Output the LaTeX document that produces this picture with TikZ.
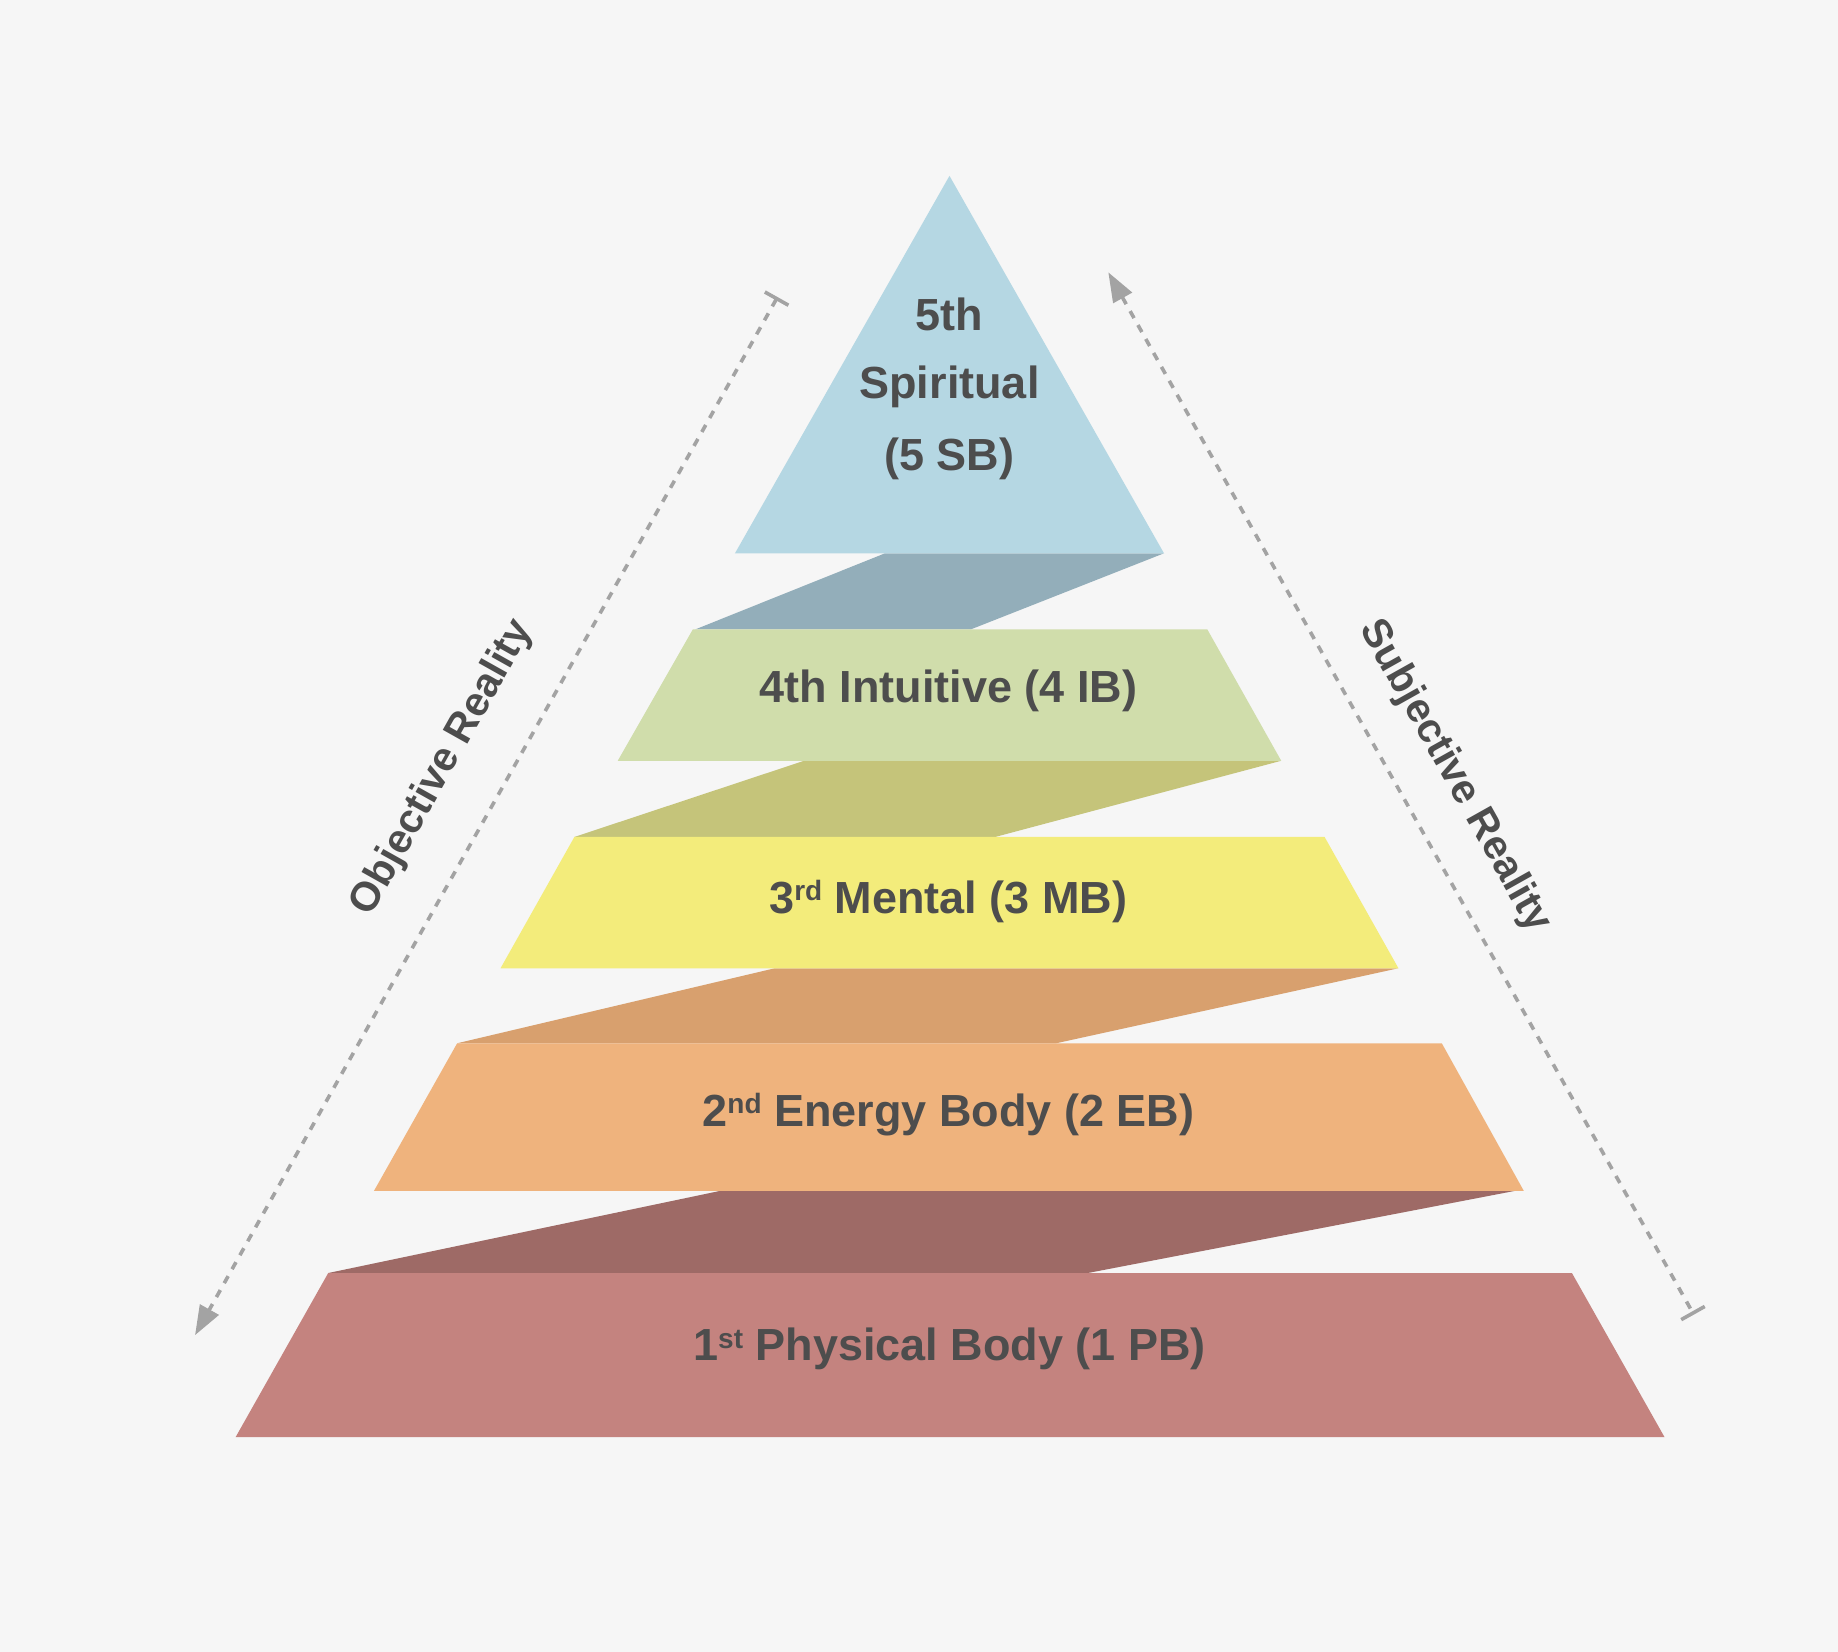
\documentclass[tikz,border=0pt]{standalone}
\usepackage{fontspec}
\setmainfont{Liberation Sans}
\usetikzlibrary{arrows.meta}
\definecolor{bgc}{HTML}{F6F6F6}
\definecolor{ctri}{HTML}{B5D7E3}
\definecolor{csa}{HTML}{93AEBA}
\definecolor{cfour}{HTML}{D0DDAB}
\definecolor{csb}{HTML}{C5C47A}
\definecolor{cthree}{HTML}{F3EC7B}
\definecolor{csc}{HTML}{D8A06E}
\definecolor{ctwo}{HTML}{EFB37D}
\definecolor{csd}{HTML}{9E6A66}
\definecolor{cone}{HTML}{C4837F}
\definecolor{txt}{HTML}{4D4D4D}
\definecolor{arr}{HTML}{A3A3A3}
\newcommand\supx[1]{\raisebox{6.3pt}{\fontsize{14}{14}\selectfont #1}}
\tikzset{
  barend/.tip={Bar[width=13.5pt]},
  tipend/.tip={Triangle[length=14.7pt,width=10.5pt]}
}
\begin{document}
\begin{tikzpicture}[x=0.5861pt,y=-0.5861pt,
  lbl/.style={text=txt,font=\fontsize{22.5}{27}\selectfont\bfseries,anchor=base,inner sep=0pt},
  sidelbl/.style={text=txt,font=\fontsize{20.5}{24}\selectfont\bfseries,inner sep=0pt},
  guide/.style={draw=arr,line width=1.8pt,dash pattern=on 4pt off 4pt}]

\fill[bgc] (0,0) rectangle (1568,1409);
\useasboundingbox (0,0) rectangle (1568,1409);

% shadows (connecting bands)
\fill[csa] (755,472) -- (993,472) -- (828,537) -- (593,537) -- cycle;
\fill[csb] (686,649) -- (1093,649) -- (849,714) -- (490,714) -- cycle;
\fill[csc] (661,826) -- (1193,826) -- (901,890) -- (390,890) -- cycle;
\fill[csd] (614,1016) -- (1292,1016) -- (928,1086) -- (280,1086) -- cycle;

% layers
\fill[ctri] (810,150) -- (993,472) -- (627,472) -- cycle;
\fill[cfour] (591,537) -- (1030,537) -- (1093,649) -- (527,649) -- cycle;
\fill[cthree] (490,714) -- (1130,714) -- (1193,826) -- (427,826) -- cycle;
\fill[ctwo] (390,890) -- (1230,890) -- (1300,1016) -- (319,1016) -- cycle;
\fill[cone] (280,1086) -- (1341,1086) -- (1420,1226) -- (201,1226) -- cycle;

% labels
\node[lbl] (l5a) at (810,282) {5th};
\node[lbl] (l5b) at (810,340) {Spiritual};
\node[lbl] (l5c) at (810,401) {(5 SB)};
\node[lbl] (l4) at (809,599) {4th Intuitive (4 IB)};
\node[lbl] (l3) at (809,779) {3\supx{rd} Mental (3 MB)};
\node[lbl] (l2) at (809,961) {2\supx{nd} Energy Body (2 EB)};
\node[lbl] (l1) at (810,1161) {1\supx{st} Physical Body (1 PB)};

% side guides
\coordinate (lt) at (663.3,253.4);
\coordinate (lb) at (166.4,1139);
\coordinate (rt) at (945.5,232.3);
\coordinate (rb) at (1445,1121.5);
\draw[guide,barend-tipend] (lt) -- (lb);
\draw[guide,tipend-barend] (rt) -- (rb);

\node[sidelbl,rotate=60.7] (obj) at (377.4,655) {Objective Reality};
\node[sidelbl,rotate=-60.7] (subj) at (1241,662.6) {Subjective Reality};
\end{tikzpicture}
\end{document}
